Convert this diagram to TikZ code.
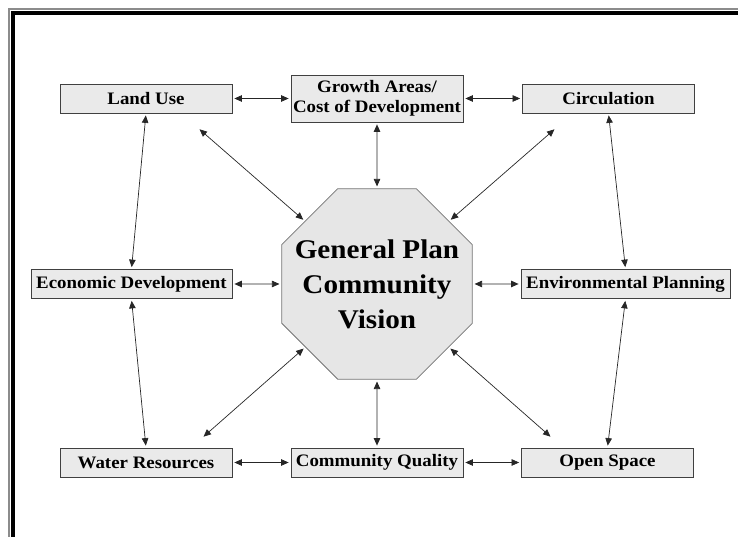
\documentclass[tikz,border=0pt]{standalone}
\usepackage{fontspec}
\setmainfont{Liberation Serif}[FakeStretch=1.08]
\usetikzlibrary{arrows.meta, positioning, shapes.geometric}

\definecolor{boxfill}{HTML}{EAEAEA}
\definecolor{octfill}{HTML}{E6E6E6}

\begin{document}
\begin{tikzpicture}[x=1pt,y=1pt,on grid,>={Triangle[length=7.5pt,width=6.5pt]},
		topic/.style={draw=black!75, fill=boxfill, line width=0.8pt, minimum width=172pt, minimum height=29pt, inner sep=2pt, align=center, font=\fontsize{17.5}{20}\selectfont\bfseries},
		link/.style={<->, line width=0.7pt, black!85, shorten >=2pt, shorten <=2pt}]
		
		\useasboundingbox (0,0) rectangle (738,537);
		
		% page frame
		\draw [black!45, line width=2pt] (9,0) -- (9,528) -- (738,528);
		\draw [black, line width=4pt] (13,0) -- (13,524) -- (738,524);
		
		\node (vision) [regular polygon, regular polygon sides=8, minimum size=206pt, inner sep=-20pt, draw=black!55, fill=octfill, line width=0.8pt, align=center, font=\fontsize{27}{35}\selectfont\bfseries] at (377,253) {General Plan\\Community\\Vision};
		
		\node (growth) [topic, minimum height=47pt, above=185.5pt of vision] {Growth Areas/\\Cost of Development};
		\node (landuse) [topic, left=231pt of growth] {Land Use};
		\node (circ) [topic, right=231.5pt of growth] {Circulation};
		\node (econ) [topic, minimum width=201pt, left=245.5pt of vision] {Economic Development};
		\node (env) [topic, minimum width=209pt, right=248.5pt of vision] {Environmental Planning};
		\node (quality) [topic, below=178.5pt of vision] {Community Quality};
		\node (water) [topic, left=231pt of quality] {Water Resources};
		\node (open) [topic, right=230.5pt of quality] {Open Space};
		
		% loose ends of the diagonals
		\coordinate (nw) at (198,409);
		\coordinate (ne) at (556,409);
		\coordinate (sw) at (202,99);
		\coordinate (se) at (552,99);
		
		\path [link]
		(landuse) edge (growth)
		(growth) edge (circ)
		(econ) edge (vision)
		(vision) edge (env)
		(water) edge (quality)
		(quality) edge (open)
		(growth) edge (vision)
		(vision) edge (quality)
		(landuse.south) edge (econ.north)
		(econ.south) edge (water.north)
		(circ.south) edge (env.north)
		(env.south) edge (open.north)
		(vision) edge (nw)
		(vision) edge (ne)
		(vision) edge (sw)
		(vision) edge (se);
	\end{tikzpicture}
\end{document}
